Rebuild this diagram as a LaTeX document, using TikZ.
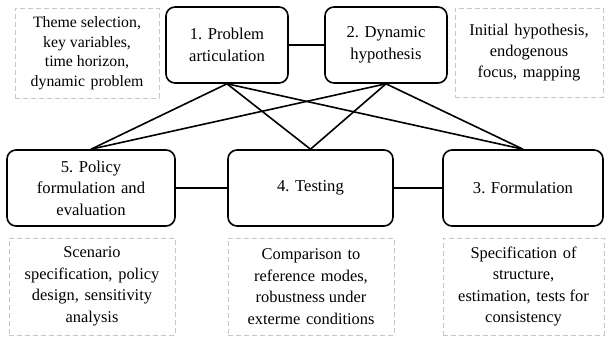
\documentclass[tikz,border=0pt]{standalone}
\usepackage{fontspec}
\setmainfont{Liberation Serif}
\newcommand{\wsp}{\hspace{0.35em}}
\begin{document}
\begin{tikzpicture}[x=1pt,y=-1pt,
  stage/.style={draw=black,line width=1.6pt,rounded corners=9pt,align=center,
    inner sep=0pt,minimum height=76pt,font=\fontsize{16.6}{21.5}\selectfont},
  note/.style={draw=black!22,line width=0.8pt,dash pattern=on 5pt off 3pt,
    align=center,inner sep=0pt,font=\fontsize{16.4}{21.5}\selectfont},
  link/.style={draw=black,line width=1.6pt}]
\useasboundingbox (0,0) rectangle (605,337);
% process stages
\node[stage,minimum width=122pt] (p1) at (227,45) {1. Problem\\articulation};
\node[stage,minimum width=122pt] (p2) at (386,45) {2. Dynamic\\hypothesis};
\node[stage,minimum width=168pt] (p5) at (91,188) {5. Policy\\formulation\wsp and\\evaluation};
\node[stage,minimum width=165pt] (p4) at (310.5,188) {4. Testing};
\node[stage,minimum width=160pt] (p3) at (523,188) {3. Formulation};
% descriptions of each stage
\node[note,minimum width=144pt,minimum height=90pt,font=\fontsize{15.8}{19.5}\selectfont] (n1) at (87,53)
  {Theme selection,\\key variables,\\time horizon,\\dynamic\wsp problem};
\node[note,minimum width=148pt,minimum height=89pt,font=\fontsize{16.4}{20.8}\selectfont] (n2) at (529,52.5)
  {Initial\wsp hypothesis,\\endogenous\\focus,\wsp mapping};
\node[note,minimum width=166pt,minimum height=97pt] (n5) at (92,286.5)
  {Scenario\\specification,\wsp policy\\design,\wsp sensitivity\\analysis};
\node[note,minimum width=166pt,minimum height=97pt] (n4) at (311,286.5)
  {Comparison\wsp to\\reference\wsp modes,\\robustness under\\exterme\wsp conditions};
\node[note,minimum width=161pt,minimum height=97pt] (n3) at (523.5,286.5)
  {Specification\wsp of\\structure,\\estimation,\wsp tests for\\consistency};
% connections between stages
\draw[link] (p1.east) -- (p2.west);
\draw[link] (p5.east) -- (p4.west);
\draw[link] (p4.east) -- (p3.west);
\foreach \a in {p1,p2}{
  \foreach \b in {p5,p4,p3}{
    \draw[link] (\a.south) -- (\b.north);
  }
}
\end{tikzpicture}
\end{document}
